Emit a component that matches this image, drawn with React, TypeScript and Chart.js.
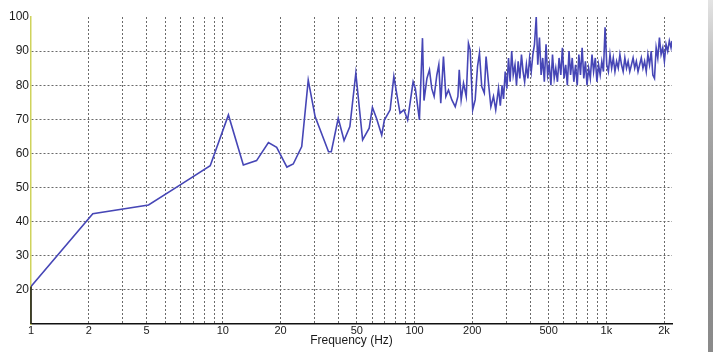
import React, { useEffect, useRef } from "react";
import { Chart, registerables } from "chart.js";

Chart.register(...registerables);

// Frequency (Hz) and level readings, low band
const lowFreqs = [1, 2.1, 4.1, 6, 8.6, 10.7, 12.8, 15, 17.3, 19.1, 21.6, 23.3, 25.8, 27.9, 30.3, 35.6, 36.8, 40, 42.9, 46, 49.4, 53.6, 58, 60.3, 63.3, 67.4, 69.6, 74.6, 78, 81, 84, 88, 92, 98.3, 101, 106, 110, 112, 116, 119.6, 123, 126.5, 130.7, 133.8, 137, 141.5, 145.6, 150.3, 156.5, 163, 168.3, 171, 175, 180, 186, 191, 195, 201, 207, 213, 218, 224, 231, 236, 243, 250, 258, 265, 274];
const lowLevels = [21, 42.3, 44.9, 50.8, 56.4, 71.3, 56.6, 57.9, 63.2, 61.8, 56, 56.9, 62, 81.5, 70.8, 60.5, 60.5, 70.3, 63.8, 67.9, 83.5, 64, 67.4, 73.5, 70.3, 65.4, 69.8, 72.8, 82.6, 77, 71.8, 72.8, 69.8, 81, 79, 69.8, 93.8, 75.5, 82, 84.5, 79, 76.7, 83, 86, 74.7, 88.4, 76.7, 78.6, 75.7, 73.7, 76.7, 84.5, 75.7, 80.6, 76.7, 92.3, 90.4, 72.8, 75.7, 85.5, 89.4, 79.6, 77.7, 88.4, 80.6, 73.7, 76.7, 72.8, 79.1];

// High band readings
const highFreqs = [280, 286, 291, 297, 303, 309, 315, 321, 327, 334, 340, 347, 354, 361, 368, 375, 383, 390, 398, 406, 414, 422, 431, 439, 448, 457, 466, 475, 485, 494, 504, 514, 524, 535, 545, 556, 567, 579, 590, 602, 614, 626, 639, 651, 664, 677, 691, 705, 719, 733, 748, 763, 778, 793, 809, 825, 842, 858, 876, 893, 911, 929, 947, 966, 985, 1005, 1025, 1045, 1066, 1087, 1109, 1131, 1154, 1177, 1200, 1224, 1249, 1274, 1299, 1325, 1352, 1379, 1406, 1434, 1463, 1492, 1522, 1552, 1583, 1615, 1647, 1680, 1714, 1748, 1783, 1819, 1855, 1892, 1930, 1969, 2008, 2048, 2089, 2131, 2174, 2200];
const highLevels = [74, 80, 76, 84, 79, 88, 81, 90, 83, 86, 80, 87, 82, 89, 84, 81, 86, 82, 88, 84, 89, 92, 100, 86, 94, 83, 88, 81, 92, 83, 86, 80, 89, 82, 85, 81, 88, 83, 91, 82, 86, 80, 90, 83, 88, 81, 86, 80, 89, 83, 91, 82, 87, 80, 85, 82, 89, 84, 88, 81, 86, 83, 87, 84, 97, 86, 84, 89, 85, 88, 84, 87, 85, 89, 86, 84, 88, 85, 87, 84, 86, 88, 85, 87, 84, 86, 88, 85, 87, 84, 89, 86, 90, 83, 82, 91, 88, 94, 89, 91, 87, 92, 90, 93, 91, 93];

// Axis ticks
const xTickValues = [1, 2, 3, 4, 5, 6, 7, 8, 9, 10, 20, 30, 40, 50, 60, 70, 80, 90, 100, 200, 300, 400, 500, 600, 700, 800, 900, 1000, 2000];
const xTickLabels: Record<number, string> = { 1: "1", 2: "2", 4: "5", 10: "10", 20: "20", 50: "50", 100: "100", 200: "200", 500: "500", 1000: "1k", 2000: "2k" };
const xMin = 1;
const xMax = 2200;
const yMin = 10;
const yMax = 100;
const yStep = 10;
const xTitle = "Frequency (Hz)";

const FONT = "'Liberation Sans', Arial, sans-serif";

export default function App() {
  const ref = useRef<HTMLCanvasElement | null>(null);

  useEffect(() => {
    document.body.style.margin = "0";
    const freqs = [...lowFreqs, ...highFreqs];
    const levels = [...lowLevels, ...highLevels];
    const points = freqs.map((f, i) => ({ x: f, y: levels[i] }));

    const axisFix = {
      id: "axisFix",
      afterDraw(chart: any) {
        const { ctx, chartArea, scales } = chart;
        const y0 = scales.y.getPixelForValue(lowLevels[0]);
        ctx.save();
        ctx.strokeStyle = "#111";
        ctx.lineWidth = 1.5;
        ctx.beginPath();
        ctx.moveTo(chartArea.left, y0);
        ctx.lineTo(chartArea.left, chartArea.bottom);
        ctx.stroke();
        ctx.restore();
      },
    };

    const chart = new Chart(ref.current!, {
      type: "line",
      data: {
        datasets: [
          {
            data: points,
            borderColor: "#4646b6",
            borderWidth: 1.6,
            pointRadius: 0,
            tension: 0,
            fill: false,
          },
        ],
      },
      options: {
        animation: false,
        responsive: false,
        devicePixelRatio: 1,
        layout: { padding: { left: 0, right: 41, top: 17, bottom: 0 } },
        plugins: { legend: { display: false }, tooltip: { enabled: false } },
        scales: {
          x: {
            type: "logarithmic",
            min: xMin,
            max: xMax,
            afterBuildTicks: (scale: any) => {
              scale.ticks = xTickValues.map((v) => ({ value: v }));
            },
            afterFit: (scale: any) => {
              scale.height = 28;
            },
            grid: {
              drawTicks: false,
              color: (c: any) => (c.tick && c.tick.value === 1 ? "rgba(0,0,0,0)" : "#6a6a6a"),
              lineWidth: 1,
            },
            border: { display: true, color: "#111", width: 1.5, dash: [2, 2] },
            ticks: {
              autoSkip: false,
              maxRotation: 0,
              minRotation: 0,
              padding: 0,
              color: "#1a1a1a",
              font: { family: FONT, size: 11 },
              callback: (v: any) => xTickLabels[Number(v)] ?? "",
            },
            title: {
              display: true,
              text: xTitle,
              color: "#1a1a1a",
              font: { family: FONT, size: 12 },
              padding: { top: 0, bottom: 4 },
            },
          },
          y: {
            type: "linear",
            min: yMin,
            max: yMax,
            afterFit: (scale: any) => {
              scale.width = 31;
            },
            grid: {
              drawTicks: false,
              color: (c: any) =>
                c.tick && (c.tick.value === yMin || c.tick.value === yMax) ? "rgba(0,0,0,0)" : "#6a6a6a",
              lineWidth: 1,
            },
            border: { display: true, color: "#cfd35c", width: 1.5, dash: [2, 2] },
            ticks: {
              stepSize: yStep,
              padding: 2,
              color: "#1a1a1a",
              font: { family: FONT, size: 12 },
              callback: (v: any) => (Number(v) === yMin ? "" : String(v)),
            },
          },
        },
      },
      plugins: [axisFix],
    });
    return () => chart.destroy();
  }, []);

  return (
    <div style={{ position: "fixed", left: 0, top: 0, width: 713, height: 352, background: "#fff" }}>
      <canvas ref={ref} width={713} height={352} style={{ width: 713, height: 352, display: "block" }} />
      <div
        style={{
          position: "absolute",
          left: 708,
          top: 0,
          width: 5,
          height: 352,
          background: "linear-gradient(to bottom, #e4e4e4 0%, #b0b0b0 25%, #909090 60%, #8a8a8a 100%)",
        }}
      />
    </div>
  );
}
